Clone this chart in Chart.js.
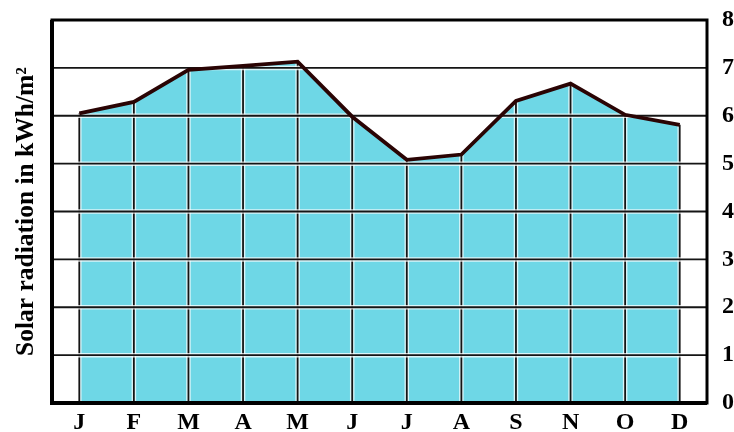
<!DOCTYPE html>
<html><head><meta charset="utf-8">
<script src="https://cdn.jsdelivr.net/npm/chart.js@4"></script>
<style>html,body{margin:0;padding:0;background:#fff}#wrap{width:734px;height:432px;position:relative}</style>
</head><body><div id="wrap"><canvas id="c"></canvas></div>
<script>
const months = ['J','F','M','A','M','J','J','A','S','N','O','D'];
const radiation = [6.05, 6.29, 6.96, 7.04, 7.13, 5.98, 5.08, 5.19, 6.31, 6.67, 6.02, 5.81];
const yTicks = [0,1,2,3,4,5,6,7,8];
const yTitle = 'Solar radiation in kWh/m\u00B2';

const FONT = "'Liberation Serif', 'Times New Roman', serif";

const overlay = {
  id: 'overlay',
  afterDatasetDraw(chart, args) {
    if (args.index !== 0) return;
    const ctx = chart.ctx, area = chart.chartArea;
    const ys = chart.scales.y;
    const meta = chart.getDatasetMeta(0);
    const base = ys.getPixelForValue(0);
    ctx.save();
    ctx.lineCap = 'butt';
    meta.data.forEach(p => {
      ctx.strokeStyle = 'rgba(255,255,255,0.75)'; ctx.lineWidth = 4.5;
      ctx.beginPath(); ctx.moveTo(p.x, p.y); ctx.lineTo(p.x, base); ctx.stroke();
      ctx.strokeStyle = '#151515'; ctx.lineWidth = 1.8;
      ctx.beginPath(); ctx.moveTo(p.x, p.y); ctx.lineTo(p.x, base); ctx.stroke();
    });
    yTicks.forEach(v => {
      if (v === yTicks[0] || v === yTicks[yTicks.length - 1]) return;
      const y = ys.getPixelForValue(v);
      ctx.strokeStyle = 'rgba(255,255,255,0.75)'; ctx.lineWidth = 4.5;
      ctx.beginPath(); ctx.moveTo(area.left, y); ctx.lineTo(area.right, y); ctx.stroke();
      ctx.strokeStyle = '#151515'; ctx.lineWidth = 1.8;
      ctx.beginPath(); ctx.moveTo(area.left, y); ctx.lineTo(area.right, y); ctx.stroke();
    });
    ctx.restore();
  },
  afterDraw(chart) {
    const ctx = chart.ctx, a = chart.chartArea;
    ctx.save();
    ctx.strokeStyle = '#000';
    ctx.lineWidth = 3;
    ctx.strokeRect(a.left, a.top, a.right - a.left, a.bottom - a.top);
    ctx.lineWidth = 4;
    ctx.beginPath();
    ctx.moveTo(a.left, a.top); ctx.lineTo(a.left, a.bottom); ctx.lineTo(a.right, a.bottom);
    ctx.stroke();
    ctx.restore();
  }
};

function noPad(s) { s.paddingLeft = 0; s.paddingRight = 0; s.paddingTop = 0; s.paddingBottom = 0; }

new Chart(document.getElementById('c'), {
  type: 'line',
  data: {
    labels: months,
    datasets: [
      {
        data: radiation,
        order: 2,
        fill: 'origin',
        backgroundColor: 'rgb(110,215,230)',
        borderWidth: 0,
        pointRadius: 0,
        tension: 0
      },
      {
        data: radiation,
        order: 1,
        fill: false,
        borderColor: '#2a0404',
        borderWidth: 3.8,
        pointRadius: 0,
        tension: 0
      }
    ]
  },
  options: {
    responsive: true,
    maintainAspectRatio: false,
    animation: false,
    layout: { padding: { top: 20, right: 0, bottom: 0, left: 0 } },
    plugins: { legend: { display: false }, tooltip: { enabled: false } },
    scales: {
      x: {
        type: 'category',
        offset: true,
        grid: { display: false, drawTicks: false, tickLength: 0 },
        border: { display: false },
        ticks: { color: '#000', padding: 8, font: { family: FONT, weight: 'bold', size: 24, lineHeight: 1.0 } },
        afterFit(s) { s.height = 29; noPad(s); }
      },
      y: {
        position: 'right',
        min: yTicks[0], max: yTicks[yTicks.length - 1],
        grid: { display: false, drawTicks: false, tickLength: 0 },
        border: { display: false },
        afterBuildTicks(s) { s.ticks = yTicks.map(v => ({ value: v })); },
        ticks: { color: '#000', padding: 15, font: { family: FONT, weight: 'bold', size: 24 } },
        afterFit(s) { s.width = 27; noPad(s); }
      },
      yL: {
        position: 'left',
        display: true,
        min: 0, max: 8,
        grid: { display: false, drawTicks: false, tickLength: 0 },
        border: { display: false },
        ticks: { display: false },
        title: { display: true, text: yTitle, color: '#000', padding: { top: 11, bottom: 11 }, font: { family: FONT, weight: 'bold', size: 25.5 } },
        afterFit(s) { s.width = 52; noPad(s); }
      }
    }
  },
  plugins: [overlay]
});
</script>
</body></html>
